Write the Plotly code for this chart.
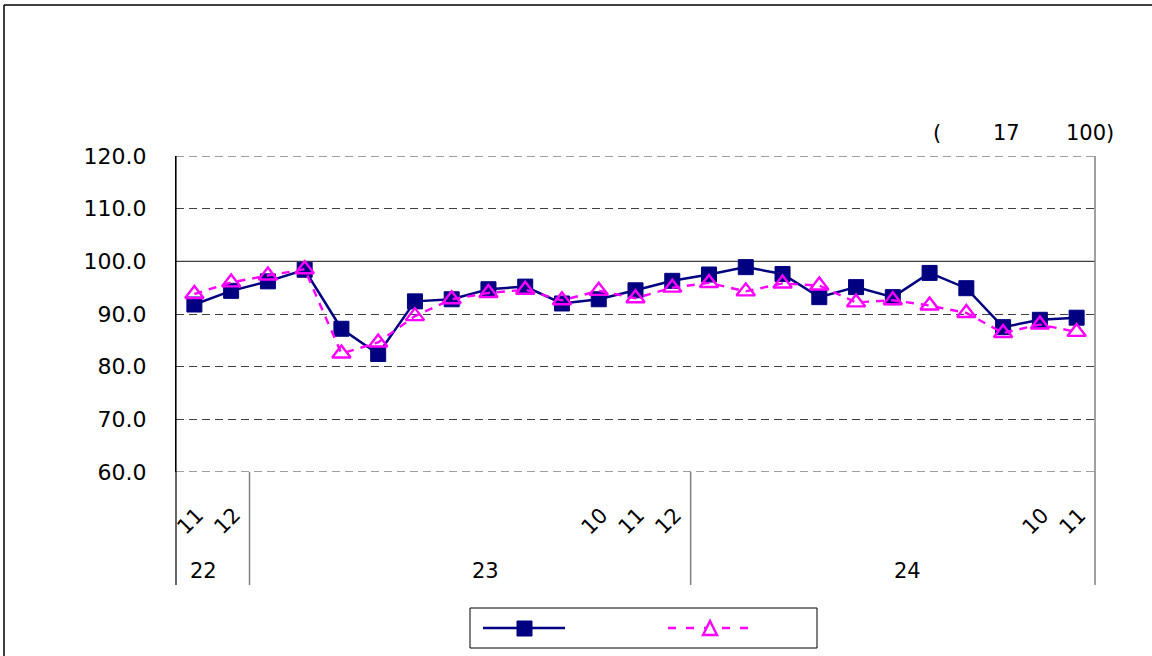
import plotly.graph_objects as go

# ---- data ----
months = ["11", "12", "", "", "", "", "", "", "", "", "", "10", "11", "12",
          "", "", "", "", "", "", "", "", "", "10", "11"]
years = ["22", "23", "24"]
year_pos = [0.25, 7.92, 19.4]           # label centres (category units)
year_breaks = [1.5, 13.5]               # separators between years
series_a = [91.8, 94.4, 96.2, 98.4, 87.2, 82.4, 92.4, 92.8, 94.7, 95.2, 92.0, 92.8,
            94.5, 96.3, 97.5, 98.9, 97.6, 93.2, 95.1, 93.2, 97.8, 94.9, 87.5, 88.9, 89.3]
series_b = [93.8, 96.0, 97.3, 98.5, 82.5, 84.6, 89.6, 92.8, 94.0, 94.6, 92.6, 94.4,
            93.0, 95.0, 95.9, 94.3, 95.8, 95.4, 92.2, 92.6, 91.6, 90.2, 86.4, 88.0, 86.6]
y_ticks = [60, 70, 80, 90, 100, 110, 120]

W, H = 1152, 656
L, R, T, B = 176, 1095, 156, 472
FONT = "DejaVu Sans"
GRID = "#404040"

def px(x):
    return (x - L) / (R - L)

def py(y):
    return (B - y) / (B - T)

xs = list(range(len(series_a)))

fig = go.Figure()
fig.add_trace(go.Scatter(
    x=xs, y=series_a, mode="lines+markers", showlegend=False,
    line=dict(color="#000080", width=2.5),
    marker=dict(symbol="square", size=15, color="#000080",
                line=dict(color="#000080", width=1)),
))
fig.add_trace(go.Scatter(
    x=xs, y=series_b, mode="lines+markers", showlegend=False,
    line=dict(color="#FF00FF", width=2.4, dash="8px,7px"),
    marker=dict(symbol="triangle-up-open", size=16, color="#FF00FF",
                line=dict(color="#FF00FF", width=2.4)),
))

shapes = []
# gridlines at range ends (dashed) and solid 100 line
for yv in (y_ticks[0], y_ticks[-1]):
    shapes.append(dict(type="line", xref="paper", yref="y", x0=0, x1=1, y0=yv, y1=yv,
                       line=dict(color=GRID, width=1, dash="8px,5px"), layer="below"))
shapes.append(dict(type="line", xref="paper", yref="y", x0=0, x1=1, y0=100, y1=100,
                   line=dict(color=GRID, width=1.2), layer="below"))
# left axis extended down
shapes.append(dict(type="line", xref="paper", yref="paper", x0=0, x1=0, y0=py(585), y1=1,
                   line=dict(color="#000000", width=1.2)))
# right border extended down
shapes.append(dict(type="line", xref="paper", yref="paper", x0=1, x1=1, y0=py(585), y1=1,
                   line=dict(color="#808080", width=1.5)))
# year separators
for xb in year_breaks:
    shapes.append(dict(type="line", xref="x", yref="paper", x0=xb, x1=xb, y0=py(585), y1=0,
                       line=dict(color="#808080", width=1.5)))
# outer chart border (top & left)
shapes.append(dict(type="line", xref="paper", yref="paper", x0=px(4), x1=px(1160),
                   y0=py(5), y1=py(5), line=dict(color="#000000", width=1.5)))
shapes.append(dict(type="line", xref="paper", yref="paper", x0=px(4), x1=px(4),
                   y0=py(5), y1=py(670), line=dict(color="#000000", width=1.5)))
# legend box
shapes.append(dict(type="rect", xref="paper", yref="paper", x0=px(470), x1=px(817),
                   y0=py(648), y1=py(608), line=dict(color="#000000", width=1),
                   fillcolor="white"))
shapes.append(dict(type="line", xref="paper", yref="paper", x0=px(483), x1=px(565),
                   y0=py(628), y1=py(628), line=dict(color="#000080", width=2.5)))
shapes.append(dict(type="rect", xref="paper", yref="paper", x0=px(517), x1=px(532),
                   y0=py(636), y1=py(621), line=dict(color="#000080", width=1),
                   fillcolor="#000080"))
shapes.append(dict(type="line", xref="paper", yref="paper", x0=px(668), x1=px(752),
                   y0=py(628), y1=py(628), line=dict(color="#FF00FF", width=2.4, dash="8px,10px")))
shapes.append(dict(type="path", xref="paper", yref="paper",
                   path=f"M {px(703)} {py(635)} L {px(717)} {py(635)} L {px(710)} {py(621)} Z",
                   line=dict(color="#FF00FF", width=2.4), fillcolor="white"))

annotations = []
for i, m in enumerate(months):
    if m:
        annotations.append(dict(x=i, y=py(521), xref="x", yref="paper", text=m,
                                showarrow=False, textangle=-45, xshift=-4,
                                xanchor="center", yanchor="middle",
                                font=dict(family=FONT, size=21, color="#000000")))
for yp, yl in zip(year_pos, years):
    annotations.append(dict(x=yp, y=py(571), xref="x", yref="paper", text=yl,
                            showarrow=False, xanchor="center", yanchor="middle",
                            font=dict(family=FONT, size=21, color="#000000")))
for txt, xx in [("(", 937), ("17", 1006), ("100)", 1090)]:
    annotations.append(dict(x=px(xx), y=py(133), xref="paper", yref="paper", text=txt,
                            showarrow=False, xanchor="center", yanchor="middle",
                            font=dict(family=FONT, size=21, color="#000000")))

fig.update_layout(
    width=W, height=H,
    margin=dict(l=L, r=W - R, t=T, b=H - B),
    paper_bgcolor="white", plot_bgcolor="white",
    showlegend=False,
    shapes=shapes, annotations=annotations,
    xaxis=dict(range=[-0.5, len(xs) - 0.5], showticklabels=False, showgrid=False,
               zeroline=False, showline=False, fixedrange=True),
    yaxis=dict(range=[60, 120], tickvals=y_ticks, tickformat=".1f",
               showgrid=True, gridcolor=GRID, griddash="8px,5px", gridwidth=1,
               zeroline=False, showline=True, linecolor="#000000", linewidth=1.2,
               ticks="", ticklabelstandoff=24,
               tickfont=dict(family=FONT, size=22, color="#000000")),
)

fig.write_html(
    "out.html",
    config={"displayModeBar": False},
    post_script="document.body.style.margin='0';document.body.style.overflow='hidden';",
)
